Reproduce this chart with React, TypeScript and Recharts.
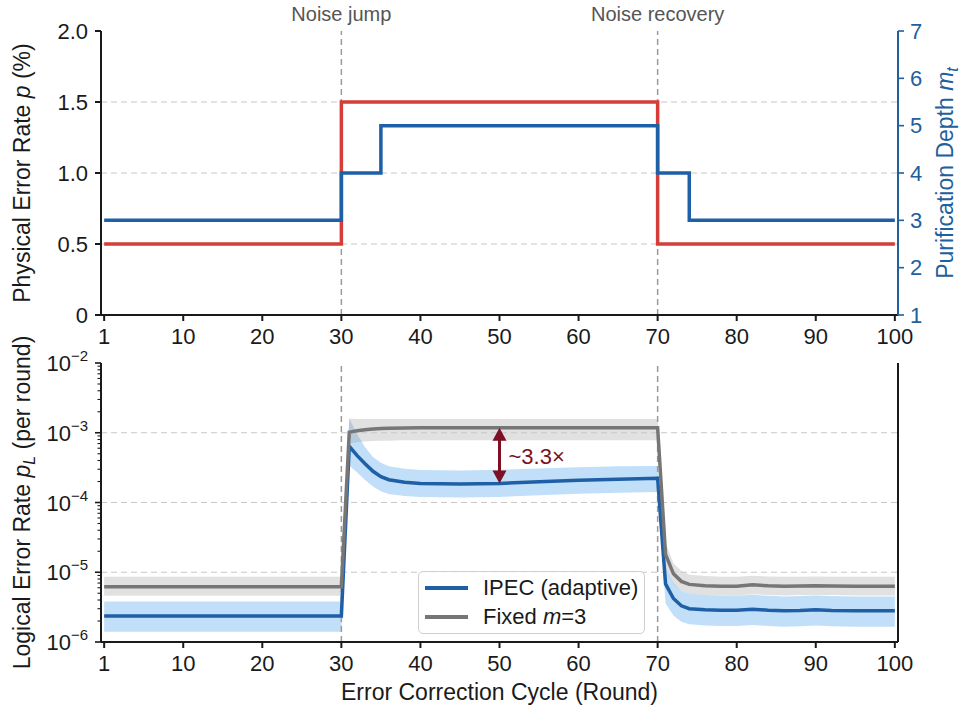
import React from 'react';
import { ComposedChart, Line, Area, XAxis, YAxis, ReferenceLine } from 'recharts';

const FONT = '"Liberation Sans", Arial, Helvetica, sans-serif';
const RED = '#d63d38';
const BLUE = '#1f5fa5';
const AXIS_BLUE = '#20609e';
const GREY = '#767676';
const DARK_RED = '#7d1022';
const INK = '#1a1a1a';
const PLOT_LEFT = 101;

// upper panel: injected noise and chosen purification depth (step changes)
const pRounds = [0, 30, 31, 70, 71, 100];
const pValues = [0.5, 0.5, 1.5, 1.5, 0.5, 0.5];
const mRounds = [0, 30, 31, 35, 36, 70, 71, 74, 75, 100];
const mValues = [3, 3, 4, 4, 5, 5, 4, 4, 3, 3];

// lower panel: logical error rate per round, mean and spread
const rounds = [0, 30, 31, 32, 33, 34, 35, 36, 38, 40, 45, 50, 55, 60, 65, 70, 71, 72, 73, 74, 76, 78, 80, 82, 84, 86, 88, 90, 92, 95, 100];
const ipecMean = [2.36e-6, 2.36e-6, 6.4e-4, 4.7e-4, 3.6e-4, 2.8e-4, 2.35e-4, 2.12e-4, 1.95e-4, 1.87e-4, 1.84e-4, 1.88e-4, 1.98e-4, 2.08e-4, 2.15e-4, 2.22e-4, 6.8e-6, 4.2e-6, 3.3e-6, 3.0e-6, 2.9e-6, 2.85e-6, 2.85e-6, 2.95e-6, 2.85e-6, 2.8e-6, 2.82e-6, 2.9e-6, 2.82e-6, 2.8e-6, 2.8e-6];
const ipecLo = [1.4e-6, 1.4e-6, 3.4e-4, 2.7e-4, 2.1e-4, 1.7e-4, 1.45e-4, 1.32e-4, 1.24e-4, 1.2e-4, 1.18e-4, 1.2e-4, 1.27e-4, 1.33e-4, 1.38e-4, 1.42e-4, 3.6e-6, 2.4e-6, 1.95e-6, 1.8e-6, 1.72e-6, 1.7e-6, 1.7e-6, 1.75e-6, 1.7e-6, 1.66e-6, 1.68e-6, 1.72e-6, 1.68e-6, 1.66e-6, 1.66e-6];
const ipecHi = [3.8e-6, 3.8e-6, 1.6e-3, 9.5e-4, 6.2e-4, 4.5e-4, 3.7e-4, 3.3e-4, 3.05e-4, 2.92e-4, 2.88e-4, 2.95e-4, 3.08e-4, 3.2e-4, 3.3e-4, 3.35e-4, 1.2e-5, 7e-6, 5.4e-6, 4.9e-6, 4.7e-6, 4.6e-6, 4.6e-6, 4.75e-6, 4.6e-6, 4.5e-6, 4.55e-6, 4.65e-6, 4.55e-6, 4.5e-6, 4.5e-6];
const fixedMean = [6.2e-6, 6.2e-6, 1.02e-3, 1.07e-3, 1.1e-3, 1.13e-3, 1.15e-3, 1.16e-3, 1.17e-3, 1.18e-3, 1.18e-3, 1.18e-3, 1.18e-3, 1.18e-3, 1.18e-3, 1.18e-3, 1.8e-5, 9.5e-6, 7.4e-6, 6.7e-6, 6.4e-6, 6.3e-6, 6.3e-6, 6.6e-6, 6.4e-6, 6.3e-6, 6.35e-6, 6.4e-6, 6.35e-6, 6.3e-6, 6.3e-6];
const fixedLo = [4.6e-6, 4.6e-6, 7.0e-4, 7.3e-4, 7.5e-4, 7.6e-4, 7.7e-4, 7.7e-4, 7.8e-4, 7.8e-4, 7.8e-4, 7.8e-4, 7.8e-4, 7.8e-4, 7.8e-4, 7.8e-4, 1.2e-5, 6.8e-6, 5.4e-6, 4.9e-6, 4.7e-6, 4.65e-6, 4.65e-6, 4.85e-6, 4.7e-6, 4.65e-6, 4.7e-6, 4.7e-6, 4.7e-6, 4.65e-6, 4.65e-6];
const fixedHi = [8.6e-6, 8.6e-6, 1.6e-3, 1.58e-3, 1.57e-3, 1.57e-3, 1.57e-3, 1.57e-3, 1.57e-3, 1.57e-3, 1.57e-3, 1.57e-3, 1.57e-3, 1.57e-3, 1.57e-3, 1.58e-3, 2.7e-5, 1.35e-5, 1.05e-5, 9.2e-6, 8.8e-6, 8.6e-6, 8.6e-6, 8.9e-6, 8.7e-6, 8.6e-6, 8.65e-6, 8.7e-6, 8.65e-6, 8.6e-6, 8.6e-6];

const ratioRound = 50;
const ratioText = '~3.3×';

const xTicks = [0, 10, 20, 30, 40, 50, 60, 70, 80, 90, 100];
const pTicks = [0, 0.5, 1, 1.5, 2];
const mTicks = [1, 2, 3, 4, 5, 6, 7];
const decadeTicks = [1e-6, 1e-5, 1e-4, 1e-3, 1e-2];
const minorSteps = [2, 3, 4, 5, 6, 7, 8, 9];
const logTicks = [
  ...decadeTicks,
  ...decadeTicks.slice(0, -1).flatMap((d) => minorSteps.map((s) => s * d)),
];

const pData = pRounds.map((r, i) => ({ round: r, p: pValues[i] }));
const mData = mRounds.map((r, i) => ({ round: r, m: mValues[i] }));
const logData = rounds.map((r, i) => ({
  round: r,
  ipec: ipecMean[i],
  ipecBand: [ipecLo[i], ipecHi[i]],
  fixed: fixedMean[i],
  fixedBand: [fixedLo[i], fixedHi[i]],
}));
const ratioIdx = rounds.indexOf(ratioRound);

const X_DOMAIN: [number, number] = [-0.4, 100.4];
const fmtRound = (v: number) => (v === 0 ? '1' : String(v));
const tickFont = { fontSize: 22, fill: INK, fontFamily: FONT };
const spine = { stroke: INK, strokeWidth: 2 };
const gridProps = { stroke: '#c8c8c8', strokeDasharray: '6 4', strokeWidth: 1.2 };
const eventProps = { stroke: '#9a9a9a', strokeDasharray: '6 4', strokeWidth: 1.5 };

// lower panel sits higher than its plot so the rotated title has room
const LOWER_TOP = 315;

const LogTick = (props: any) => {
  const { y, payload } = props;
  const v = payload.value;
  const isDecade = decadeTicks.some((d) => Math.abs(v - d) / d < 1e-6);
  const exp = Math.round(Math.log10(v));
  return (
    <g>
      <line x1={PLOT_LEFT - (isDecade ? 6 : 3.5)} x2={PLOT_LEFT} y1={y} y2={y} stroke={INK} strokeWidth={isDecade ? 1.6 : 1.1} />
      {isDecade && (
        <text x={PLOT_LEFT - 13} y={y + 8} textAnchor="end" fontSize={22} fill={INK} fontFamily={FONT}>
          10<tspan dy={-10} fontSize={15}>{'\u2212' + String(-exp)}</tspan>
        </text>
      )}
    </g>
  );
};

const RatioArrow = (props: any) => {
  const { x1, y1, x2, y2 } = props;
  const head = 13;
  const half = 7;
  return (
    <g>
      <line x1={x1} y1={y1 + head - 2} x2={x2} y2={y2 - head + 2} stroke={DARK_RED} strokeWidth={3} />
      <polygon points={`${x1},${y1} ${x1 - half},${y1 + head} ${x1 + half},${y1 + head}`} fill={DARK_RED} />
      <polygon points={`${x2},${y2} ${x2 - half},${y2 - head} ${x2 + half},${y2 - head}`} fill={DARK_RED} />
      <text x={x1 + 9} y={(y1 + y2) / 2 + 1} dominantBaseline="central" fontSize={22} fill={DARK_RED} fontFamily={FONT}>
        {ratioText}
      </text>
    </g>
  );
};

const leftTitle = (lines: React.ReactNode) => (props: any) => {
  const vb = props.viewBox || { x: 0, y: 0, width: PLOT_LEFT, height: 0 };
  const cy = vb.y + vb.height / 2;
  return (
    <text x={30} y={cy} transform={`rotate(-90 30 ${cy})`} textAnchor="middle" fontSize={23} fill={INK} fontFamily={FONT}>
      {lines}
    </text>
  );
};

const rightTitle = (props: any) => {
  const vb = props.viewBox || { x: 898, y: 31, width: 62, height: 284 };
  const cy = vb.y + vb.height / 2;
  const x = 953;
  return (
    <text x={x} y={cy} transform={`rotate(-90 ${x} ${cy})`} textAnchor="middle" fontSize={23} fill={AXIS_BLUE} fontFamily={FONT}>
      Purification Depth <tspan fontStyle="italic">m</tspan>
      <tspan fontStyle="italic" dy={5} fontSize={16}>t</tspan>
    </text>
  );
};

const eventLabel = (text: string) => ({ value: text, position: 'top' as const, offset: 10, fill: '#555', fontSize: 20, fontFamily: FONT });

const NoisePanel = () => (
  <ComposedChart width={960} height={360} margin={{ top: 31, right: 0, bottom: 0, left: 0 }}>
    <XAxis dataKey="round" type="number" domain={X_DOMAIN} allowDataOverflow ticks={xTicks} interval={0}
      tickFormatter={fmtRound} tick={tickFont} tickSize={6} tickMargin={7} height={45}
      axisLine={spine} tickLine={spine} />
    <XAxis xAxisId="top" orientation="top" type="number" domain={X_DOMAIN} height={0}
      tick={false} tickLine={false} axisLine={spine} />
    <YAxis yAxisId="left" type="number" domain={[0, 2]} ticks={pTicks} interval={0} width={PLOT_LEFT}
      tickFormatter={(v: number) => (v === 0 ? '0' : v.toFixed(1))} tick={tickFont} tickSize={6} tickMargin={7}
      axisLine={spine} tickLine={spine}
      label={leftTitle(<>Physical Error Rate <tspan fontStyle="italic">p</tspan> (%)</>)} />
    <YAxis yAxisId="right" orientation="right" type="number" domain={[1, 7]} ticks={mTicks} interval={0} width={62}
      tick={{ ...tickFont, fill: AXIS_BLUE }} tickSize={6} tickMargin={6}
      axisLine={{ stroke: AXIS_BLUE, strokeWidth: 2 }} tickLine={{ stroke: AXIS_BLUE, strokeWidth: 1.6 }}
      label={rightTitle} />
    {[0.5, 1, 1.5].map((v) => (
      <ReferenceLine key={v} yAxisId="left" y={v} {...gridProps} />
    ))}
    <ReferenceLine yAxisId="left" x={30} {...eventProps} label={eventLabel('Noise jump')} />
    <ReferenceLine yAxisId="left" x={70} {...eventProps} label={eventLabel('Noise recovery')} />
    <Line yAxisId="left" data={pData} dataKey="p" type="stepBefore" stroke={RED} strokeWidth={3.5}
      dot={false} isAnimationActive={false} />
    <Line yAxisId="right" data={mData} dataKey="m" type="stepBefore" stroke={BLUE} strokeWidth={3.5}
      dot={false} isAnimationActive={false} />
  </ComposedChart>
);

const LogicalPanel = () => (
  <ComposedChart width={960} height={708 - LOWER_TOP} data={logData} margin={{ top: 363 - LOWER_TOP, right: 0, bottom: 0, left: 0 }}>
    <XAxis dataKey="round" type="number" domain={X_DOMAIN} allowDataOverflow ticks={xTicks} interval={0}
      tickFormatter={fmtRound} tick={tickFont} tickSize={6} tickMargin={7} height={66}
      axisLine={spine} tickLine={spine}
      label={{ value: 'Error Correction Cycle (Round)', position: 'insideBottom', offset: 8, fontSize: 23, fill: INK, fontFamily: FONT }} />
    <XAxis xAxisId="top" orientation="top" type="number" domain={X_DOMAIN} height={0}
      tick={false} tickLine={false} axisLine={spine} />
    <YAxis yAxisId="log" type="number" scale="log" domain={[1e-6, 1e-2]} allowDataOverflow ticks={logTicks}
      interval={0} width={PLOT_LEFT} tick={(p: any) => <LogTick {...p} />} tickLine={false} axisLine={spine}
      label={leftTitle(<>Logical Error Rate <tspan fontStyle="italic">p</tspan><tspan fontStyle="italic" dy={5} fontSize={16}>L</tspan><tspan dy={-5}> (per round)</tspan></>)} />
    <YAxis yAxisId="frame" orientation="right" type="number" domain={[0, 1]} width={62}
      tick={false} tickLine={false} axisLine={spine} />
    {[1e-5, 1e-4, 1e-3].map((v) => (
      <ReferenceLine key={v} yAxisId="log" y={v} {...gridProps} />
    ))}
    <ReferenceLine yAxisId="log" x={30} {...eventProps} />
    <ReferenceLine yAxisId="log" x={70} {...eventProps} />
    <Area yAxisId="log" dataKey="ipecBand" type="linear" stroke="none" fill="#4da3ea" fillOpacity={0.35}
      isAnimationActive={false} />
    <Area yAxisId="log" dataKey="fixedBand" type="linear" stroke="none" fill="#9a9a9a" fillOpacity={0.3}
      isAnimationActive={false} />
    <Line yAxisId="log" dataKey="ipec" type="linear" stroke={BLUE} strokeWidth={3.5} dot={false}
      isAnimationActive={false} />
    <Line yAxisId="log" dataKey="fixed" type="linear" stroke={GREY} strokeWidth={3.5} dot={false}
      isAnimationActive={false} />
    <ReferenceLine yAxisId="log" ifOverflow="visible"
      segment={[{ x: ratioRound, y: fixedMean[ratioIdx] }, { x: ratioRound, y: ipecMean[ratioIdx] }]}
      shape={RatioArrow} />
  </ComposedChart>
);

const legendItems = [
  { color: BLUE, label: <>IPEC (adaptive)</> },
  { color: GREY, label: <>Fixed <i>m</i>=3</> },
];

export default function App() {
  return (
    <div style={{ position: 'absolute', left: 0, top: 0, width: 960, height: 708, background: '#fff', fontFamily: FONT }}>
      <div style={{ position: 'absolute', left: 0, top: 0 }}>
        <NoisePanel />
      </div>
      <div style={{ position: 'absolute', left: 0, top: LOWER_TOP }}>
        <LogicalPanel />
      </div>
      <div style={{
        position: 'absolute', left: 418, top: 571, width: 227, height: 63, boxSizing: 'border-box',
        border: '1px solid #cfcfcf', borderRadius: 5, background: 'rgba(255,255,255,0.85)', paddingTop: 1,
      }}>
        {legendItems.map((it, i) => (
          <div key={i} style={{ display: 'flex', alignItems: 'center', height: 29 }}>
            <div style={{ width: 43, height: 4, background: it.color, marginLeft: 6 }} />
            <span style={{ marginLeft: 15, fontSize: 22, color: INK, whiteSpace: 'nowrap' }}>{it.label}</span>
          </div>
        ))}
      </div>
    </div>
  );
}
